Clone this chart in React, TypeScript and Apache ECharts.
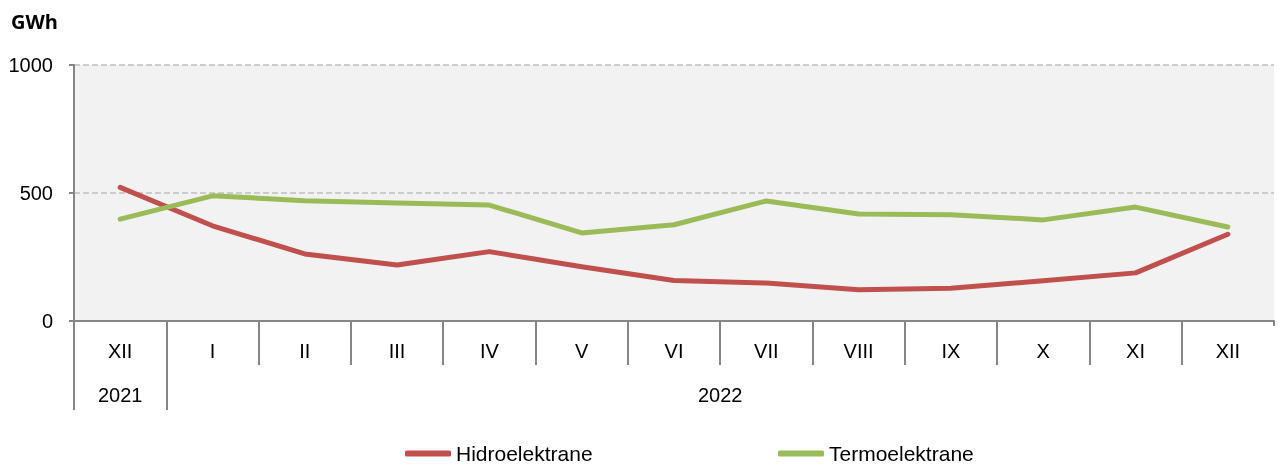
import React, { useEffect, useRef } from "react";
import * as echarts from "echarts";

const months = ["XII", "I", "II", "III", "IV", "V", "VI", "VII", "VIII", "IX", "X", "XI", "XII"];
const hidro = [522, 372, 262, 219, 271, 212, 158, 148, 122, 128, 157, 188, 339];
const termo = [398, 489, 470, 461, 453, 344, 376, 469, 418, 415, 395, 445, 367];
const years = ["2021", "2022"];
const yearSpans = [[0, 1], [1, 13]]; // category index ranges per year
const yTicks = [0, 500, 1000];

const FONT = "'Liberation Sans Narrow', 'Arial Narrow', 'Liberation Sans', Arial, sans-serif";
const AXIS = "#868686";

export default function App() {
  const ref = useRef<HTMLDivElement>(null);
  useEffect(() => {
    if (!ref.current) return;
    const chart = echarts.init(ref.current, null, { renderer: "svg" });
    const boundaries = months.map((_, i) => i);
    const yearStarts = yearSpans.map((s) => s[0]);
    const yearMids = yearSpans.map((s) => (s[0] + s[1]) / 2);
    chart.setOption({
      animation: false,
      title: {
        text: "GWh",
        left: 6,
        top: 6,
        textStyle: { fontFamily: "'Open Sans', sans-serif", fontWeight: "bold", fontSize: 20, color: "#000" },
      },
      legend: [
        {
          data: ["Hidroelektrane"],
          left: 400,
          top: 438,
          itemWidth: 46,
          itemHeight: 6,
          icon: "roundRect",
          textStyle: { fontFamily: FONT, fontSize: 21, color: "#000" },
        },
        {
          data: ["Termoelektrane"],
          left: 773,
          top: 438,
          itemWidth: 46,
          itemHeight: 6,
          icon: "roundRect",
          textStyle: { fontFamily: FONT, fontSize: 21, color: "#000" },
        },
      ],
      grid: { left: 74, right: 10, top: 65, bottom: 147, backgroundColor: "#f2f2f2", show: true, borderWidth: 0 },
      xAxis: [
        {
          type: "category",
          data: months,
          boundaryGap: true,
          axisLine: { show: true, lineStyle: { color: AXIS, width: 2 } },
          axisTick: { show: true, length: 5, interval: 0, lineStyle: { color: AXIS, width: 2 } },
          axisLabel: { interval: 0, margin: 20, fontFamily: FONT, fontSize: 20, color: "#000" },
          splitLine: { show: false },
        },
        {
          type: "value",
          min: 0,
          max: months.length,
          position: "bottom",
          axisLine: { show: false },
          axisTick: { show: true, length: 44, customValues: boundaries, lineStyle: { color: AXIS, width: 2 } },
          axisLabel: { show: false },
          splitLine: { show: false },
        },
        {
          type: "value",
          min: 0,
          max: months.length,
          position: "bottom",
          offset: 44,
          axisLine: { show: false },
          axisTick: { show: true, length: 45, customValues: yearStarts, lineStyle: { color: AXIS, width: 2 } },
          axisLabel: {
            show: true,
            customValues: yearMids,
            margin: 20,
            fontFamily: FONT,
            fontSize: 20,
            color: "#000",
            formatter: (v: number) => years[yearMids.indexOf(v)] ?? "",
          },
          splitLine: { show: false },
        },
      ],
      yAxis: {
        type: "value",
        min: 0,
        max: 1000,
        interval: 500,
        axisLine: { show: true, lineStyle: { color: AXIS, width: 2 } },
        axisTick: { show: true, length: 5, lineStyle: { color: AXIS, width: 2 } },
        axisLabel: {
          margin: 21,
          fontFamily: FONT,
          fontSize: 20,
          color: "#000",
          formatter: (v: number) => (yTicks.includes(v) ? String(v) : ""),
        },
        splitLine: { show: true, lineStyle: { color: "#bfbfbf", type: [6, 3], width: 1.5 } },
      },
      series: [
        {
          name: "Hidroelektrane",
          type: "line",
          data: hidro,
          xAxisIndex: 0,
          symbol: "none",
          color: "#c0504d",
          lineStyle: { width: 5, color: "#c0504d", cap: "round", join: "round" },
        },
        {
          name: "Termoelektrane",
          type: "line",
          data: termo,
          xAxisIndex: 0,
          symbol: "none",
          color: "#9bbb59",
          lineStyle: { width: 5, color: "#9bbb59", cap: "round", join: "round" },
        },
      ],
    });
    return () => chart.dispose();
  }, []);
  return <div ref={ref} style={{ position: "fixed", left: 0, top: 0, width: 1284, height: 468 }} />;
}
